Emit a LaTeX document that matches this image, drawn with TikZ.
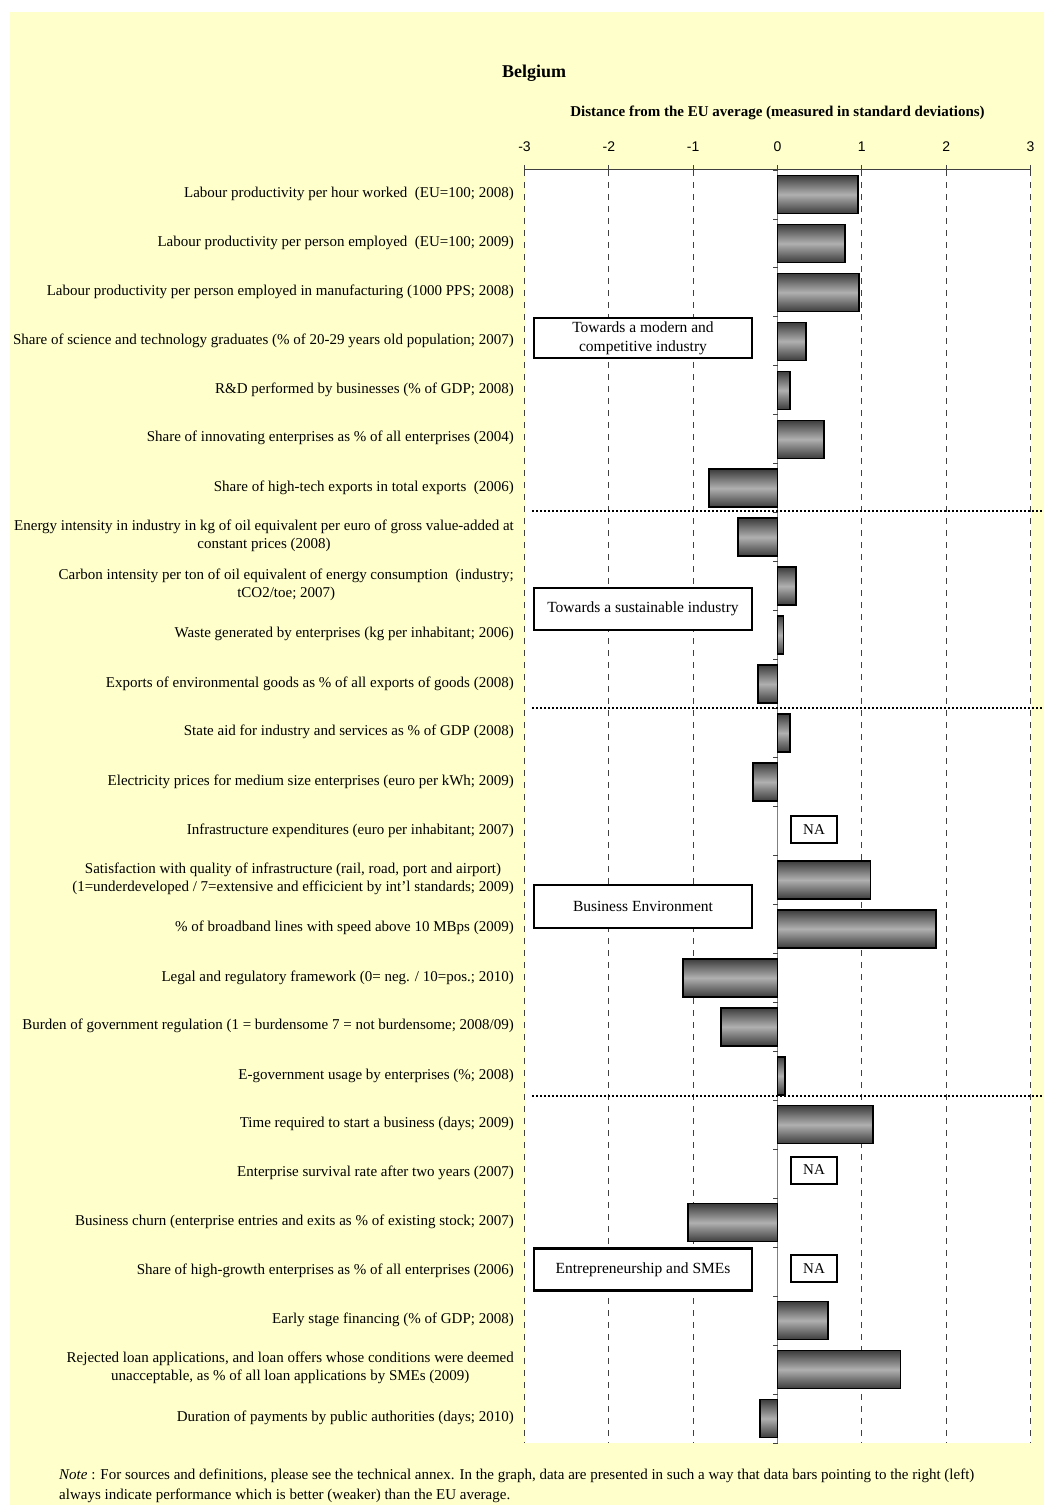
\documentclass[tikz,border=0pt]{standalone}
\usepackage{fontspec}
\setmainfont{Liberation Serif}
\newfontfamily\axisfont{Liberation Sans}
\definecolor{bgyellow}{HTML}{FFFFCC}
\definecolor{bardark}{HTML}{3C3C3C}
\definecolor{barlight}{HTML}{B0B0B0}
\definecolor{gridgray}{HTML}{404040}
\tikzset{
  lbl/.style={anchor=east, align=center, inner sep=0pt, font=\fontsize{15}{18}\selectfont},
  catbox/.style={draw=black, line width=2.6pt, fill=white, align=center, inner sep=0pt,
     minimum width=218pt, font=\fontsize{15.5}{19}\selectfont},
  nabox/.style={draw=black, line width=2pt, fill=white, inner sep=0pt,
     minimum width=46pt, minimum height=27pt, font=\fontsize{15}{17}\selectfont},
  gridline/.style={draw=gridgray, line width=0.9pt, dash pattern=on 5.5pt off 6.5pt},
  axisline/.style={draw=gridgray, line width=1pt},
  sepline/.style={draw=black, line width=2pt, dash pattern=on 2pt off 2pt},
  databar/.style={draw=black, line width=1.5pt, top color=bardark, bottom color=bardark, middle color=barlight},
  ticklbl/.style={font=\axisfont\fontsize{14}{16}\selectfont, inner sep=0pt}
}
\begin{document}
\begin{tikzpicture}[x=1pt,y=-1pt]
\useasboundingbox (0,0) rectangle (1044,1505);
\clip (0,0) rectangle (1044,1505);
\fill[white] (0,0) rectangle (1044,1505);
\fill[bgyellow] (10,12) rectangle (1044,1505);
\fill[white] (524.5,170) rectangle (1030.5,1443);
\def\xo{777.5}
\def\ux{84.33}
\def\pitch{48.96}
% titles
\node[font=\bfseries\fontsize{18}{21}\selectfont, inner sep=0pt] (title) at (534,73) {Belgium};
\node[font=\bfseries\fontsize{15}{18}\selectfont, inner sep=0pt] (subtitle) at (777.5,113) {Distance from the EU average (measured in standard deviations)};
% grid
\foreach \v in {-3,-2,-1,1,2,3}{
  \draw[gridline] ({\xo+\v*\ux},170) -- ({\xo+\v*\ux},1443);
}
\draw[axisline] (524.5,169.5) -- (1030.5,169.5);
\foreach \v in {-3,...,3}{
  \draw[axisline] ({\xo+\v*\ux},165) -- ({\xo+\v*\ux},174);
  \node[ticklbl] (t\v) at ({\xo+\v*\ux},147) {\v};
}
\draw[draw=gray, line width=0.9pt] (\xo,170) -- (\xo,1443);
\foreach \k in {0,...,26}{
  \draw[draw=gridgray, line width=0.9pt] (773,{170+\k*\pitch}) -- (\xo,{170+\k*\pitch});
}
% separators
\draw[sepline] (532,511) -- (1044,511);
\draw[sepline] (532,708) -- (1044,708);
\draw[sepline] (532,1095.5) -- (1044,1095.5);
% bars
\foreach \i/\v in {0/0.955,1/0.80,2/0.965,3/0.34,4/0.15,5/0.55,6/-0.81,7/-0.47,8/0.22,9/0.07,10/-0.23,11/0.15,12/-0.29,14/1.10,15/1.88,16/-1.12,17/-0.67,18/0.09,19/1.13,21/-1.06,23/0.60,24/1.46,25/-0.21}{
  \draw[databar] (\xo,{170+\pitch*(\i+0.5)-19}) rectangle ({\xo+\v*\ux},{170+\pitch*(\i+0.5)+19});
}
% NA boxes
\node[nabox] (na1) at (814,829.5) {NA};
\node[nabox] (na2) at (814,1170) {NA};
\node[nabox] (na3) at (814,1268.5) {NA};
% category boxes
\node[catbox, minimum height=40pt] (c1) at (643,338) {Towards a modern and\\competitive industry};
\node[catbox, minimum height=42pt] (c2) at (643,609) {Towards a sustainable industry};
\node[catbox, minimum height=43pt] (c3) at (643,906.5) {Business Environment};
\node[catbox, minimum height=42pt] (c4) at (643,1269.5) {Entrepreneurship and SMEs};
% labels
\node[lbl] (l0) at (514,193.5) {Labour productivity per hour worked~ (EU=100; 2008)};
\node[lbl] (l1) at (514,242.5) {Labour productivity per person employed~ (EU=100; 2009)};
\node[lbl] (l2) at (514,291.5) {Labour productivity per person employed in manufacturing (1000 PPS; 2008)};
\node[lbl] (l3) at (514,340.5) {Share of science and technology graduates (\% of 20-29 years old population; 2007)};
\node[lbl] (l4) at (514,389.5) {R\&D performed by businesses (\% of GDP; 2008)};
\node[lbl] (l5) at (514,438) {Share of innovating enterprises as \% of all enterprises (2004)};
\node[lbl] (l6) at (514,487.5) {Share of high-tech exports in total exports~ (2006)};
\node[lbl] (l7) at (514,536) {Energy intensity in industry in kg of oil equivalent per euro of gross value-added at\\constant prices (2008)};
\node[lbl] (l8) at (514,584.5) {Carbon intensity per ton of oil equivalent of energy consumption~ (industry;\\tCO2/toe; 2007)};
\node[lbl] (l9) at (514,634) {Waste generated by enterprises (kg per inhabitant; 2006)};
\node[lbl] (l10) at (514,683.5) {Exports of environmental goods as \% of all exports of goods (2008)};
\node[lbl] (l11) at (514,732) {State aid for industry and services as \% of GDP (2008)};
\node[lbl] (l12) at (514,781.5) {Electricity prices for medium size enterprises (euro per kWh; 2009)};
\node[lbl] (l13) at (514,830.5) {Infrastructure expenditures (euro per inhabitant; 2007)};
\node[lbl] (l14) at (514,879) {Satisfaction with quality of infrastructure (rail, road, port and airport)\\(1=underdeveloped / 7=extensive and efficicient by int'l standards; 2009)};
\node[lbl] (l15) at (514,928) {\% of broadband lines with speed above 10 MBps (2009)};
\node[lbl] (l16) at (514,977.5) {Legal and regulatory framework (0= neg. / 10=pos.; 2010)};
\node[lbl] (l17) at (514,1025.5) {Burden of government regulation (1 = burdensome 7 = not burdensome; 2008/09)};
\node[lbl] (l18) at (514,1075.5) {E-government usage by enterprises (\%; 2008)};
\node[lbl] (l19) at (514,1123.5) {Time required to start a business (days; 2009)};
\node[lbl] (l20) at (514,1172.5) {Enterprise survival rate after two years (2007)};
\node[lbl] (l21) at (514,1221.5) {Business churn (enterprise entries and exits as \% of existing stock; 2007)};
\node[lbl] (l22) at (514,1270.5) {Share of high-growth enterprises as \% of all enterprises (2006)};
\node[lbl] (l23) at (514,1319.5) {Early stage financing (\% of GDP; 2008)};
\node[lbl] (l24) at (514,1368) {Rejected loan applications, and loan offers whose conditions were deemed\\unacceptable, as \% of all loan applications by SMEs (2009)};
\node[lbl] (l25) at (514,1417.5) {Duration of payments by public authorities (days; 2010)};
% note
\node[anchor=west, inner sep=0pt, font=\fontsize{15}{18}\selectfont] (note1) at (59,1476) {\textit{Note} : For sources and definitions, please see the technical annex. In the graph, data are presented in such a way that data bars pointing to the right (left)};
\node[anchor=west, inner sep=0pt, font=\fontsize{15}{18}\selectfont] (note2) at (59,1496) {always indicate performance which is better (weaker) than the EU average.};
\end{tikzpicture}
\end{document}
